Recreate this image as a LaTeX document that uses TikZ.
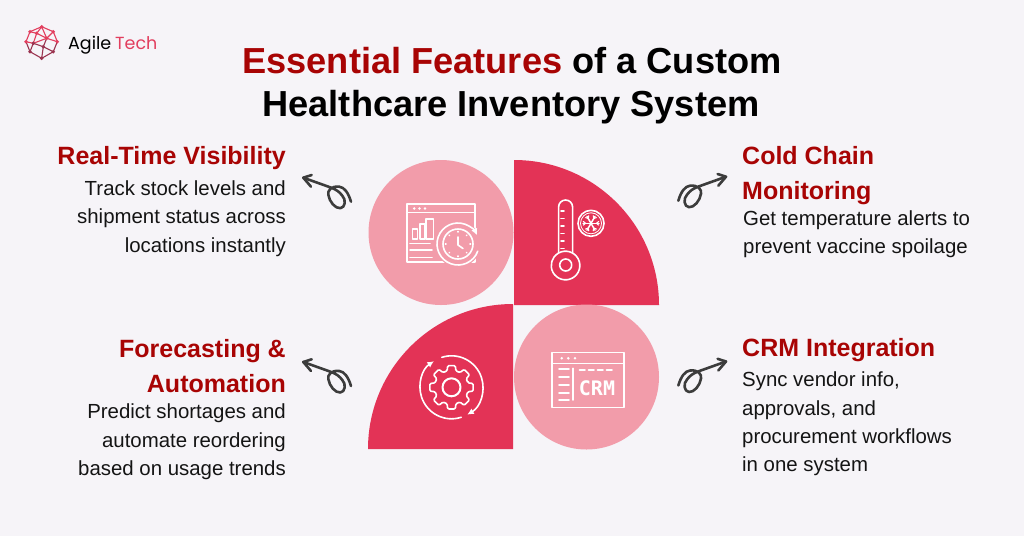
\documentclass[tikz,border=0pt]{standalone}
\usepackage{fontspec}
\setmainfont{Liberation Sans}
\newfontfamily\logofont{Poppins}
\newfontfamily\crmfont{DejaVu Sans Mono}
\usetikzlibrary{arrows.meta}
\definecolor{paper}{HTML}{F6F4F8}
\definecolor{softpink}{HTML}{F29CAA}
\definecolor{strongred}{HTML}{E33356}
\definecolor{headred}{HTML}{A80404}
\definecolor{inkgrey}{HTML}{3C3C3C}
\definecolor{logored}{HTML}{E23E5E}
\definecolor{logodark}{HTML}{9A3450}
\tikzset{titletext/.style = {font=\fontsize{36.2}{43}\bfseries\selectfont, text=black, inner sep=0pt, anchor=base}}
\tikzset{headleft/.style = {font=\fontsize{25}{35}\bfseries\selectfont, text=headred, inner sep=0pt, anchor=north east, align=right}}
\tikzset{headright/.style = {font=\fontsize{25}{35}\bfseries\selectfont, text=headred, inner sep=0pt, anchor=north west, align=left}}
\tikzset{bodyleft/.style = {font=\fontsize{20.4}{28.3}\selectfont, text=black!92, inner sep=0pt, anchor=north east, align=right}}
\tikzset{bodyright/.style = {font=\fontsize{20.4}{28.3}\selectfont, text=black!92, inner sep=0pt, anchor=north west, align=left}}
\tikzset{iconline/.style = {draw=white, line width=1.6pt, line cap=round, line join=round}}
\tikzset{curl/.pic = {
  \draw[inkgrey, line width=2.6pt, line cap=round, line join=round]
    (47.7,24) .. controls (45,15) and (41,9.5) .. (36,9)
    .. controls (28,8) and (24,13) .. (25,17)
    .. controls (26,24) and (32,31) .. (37,30.5)
    .. controls (42,30) and (43,22) .. (39,18)
    .. controls (36,14) and (33,12) .. (28,10) -- (0,0);
  \draw[inkgrey, line width=2.6pt, line cap=round, line join=round]
    (8.4,-2.7) -- (0,0) -- (7.7,9);
}}

\begin{document}
\begin{tikzpicture}[x=1pt, y=-1pt, >={Latex[length=6.5pt,width=6.5pt]}]
  \fill[paper] (0,0) rectangle (1024,536);

  % logo
  \foreach \name/\px/\py in {lt/41.7/26.7, lur/53.3/31.7, lr/57.3/41.7, llr/53.3/51.7, lb/41.7/58.3, lll/30/51.7, ll/26/41.7, lul/30/31.7, la/36.7/33.3, lc/46.7/38.3, ld/33.3/43.3, le/43.3/46.7}
    \coordinate (\name) at (\px,\py);
  \foreach \from/\to in {lt/lur, lur/lr, lul/lt, ll/lul, lt/la, lt/lc, la/lc, lc/lur, lc/lr, la/lul, la/ld, ld/lc, ld/ll}
    \draw[logored, line width=1.1pt] (\from) -- (\to);
  \foreach \from/\to in {lr/llr, llr/lb, lb/lll, lll/ll, ld/le, le/lc, le/llr, le/lb, ld/lll}
    \draw[logodark, line width=1.1pt] (\from) -- (\to);
  \foreach \name in {lt, lur, lr, lul, ll, la, lc}
    \fill[logored] (\name) circle (1.9);
  \foreach \name in {llr, lb, lll, ld, le}
    \fill[logodark] (\name) circle (1.9);
  \node[font=\logofont\fontsize{17.5}{20}\selectfont, inner sep=0pt, anchor=base west] (agile) at (68,49) {Agile};
  \node[font=\logofont\fontsize{17.5}{20}\selectfont, text=logored, inner sep=0pt, anchor=base west] (tech) at (115,49) {Tech};

  % title
  \node[titletext] (title1) at (512,73.3) {\textcolor{headred}{Essential Features} of a Custom};
  \node[titletext] (title2) at (511,116.7) {Healthcare Inventory System};

  % texts
  \node[headleft] (visibility) at (286,146) {Real-Time Visibility};
  \node[bodyleft] (visibilitytext) at (286,180.5) {Track stock levels and\\shipment status across\\locations instantly};
  \node[headright] (coldchain) at (742,146) {Cold Chain\\Monitoring};
  \node[bodyright] (coldchaintext) at (743,210.5) {Get temperature alerts to\\prevent vaccine spoilage};
  \node[headleft] (forecasting) at (286,339) {Forecasting \&\\Automation};
  \node[bodyleft] (forecastingtext) at (286,404) {Predict shortages and\\automate reordering\\based on usage trends};
  \node[headright] (crm) at (742,338) {CRM Integration};
  \node[bodyright] (crmtext) at (742,372) {Sync vendor info,\\approvals, and\\procurement workflows\\in one system};

  % four blocks
  \fill[softpink] (441,232.5) circle (72.5);
  \fill[strongred] (514,305) -- (514,160) arc[start angle=-90, end angle=0, radius=145] -- cycle;
  \fill[strongred] (513,449) -- (368,449) arc[start angle=180, end angle=270, radius=145] -- cycle;
  \fill[softpink] (586.5,377) circle (72.5);

  % window and clock
  \draw[iconline] (406.7,204) rectangle (475,262);
  \draw[iconline] (406.7,212.5) -- (475,212.5);
  \foreach \dotx in {414.3,419.5,425}
    \fill[white] (\dotx,208.5) circle (1.4);
  \draw[iconline] (412.3,239) -- (412.3,229) -- (417.3,229) -- (417.3,239) -- cycle;
  \draw[iconline] (420,239) -- (420,224) -- (425,224) -- (425,239) -- cycle;
  \draw[iconline] (426,239) -- (426,219) -- (433.3,219) -- (433.3,239) -- cycle;
  \foreach \liney/\linex in {243.3/430, 250/432, 257.3/432}
    \draw[iconline] (410,\liney) -- (\linex,\liney);
  \fill[softpink] (458,244) circle (23);
  \draw[iconline, ->] (458,244) ++(20:21) arc[start angle=20, end angle=335, radius=21];
  \draw[iconline] (458,244) circle (15);
  \foreach \t in {0,45,...,315}
    \draw[iconline] (458,244) ++(\t:12) -- ++(\t:0.6);
  \draw[iconline] (458,237) -- (458,245) -- (463,248.5);

  % thermometer and snowflake
  \draw[iconline] (558.6,253) -- (558.6,207) arc[start angle=180, end angle=360, radius=7] -- (572.6,253);
  \draw[iconline] (558.6,253) arc[start angle=-119, end angle=240, radius=14.3];
  \draw[iconline] (565.7,265) circle (6);
  \foreach \ticky in {211,218.3,225.7,233.3,241,248.3}
    \draw[iconline] (561,\ticky) -- (564,\ticky);
  \draw[iconline] (591,223.3) circle (13);
  \draw[white, line width=0.8pt] (591,223.3) circle (10.5);
  \foreach \t in {0,60,...,300} {
    \draw[iconline, line width=1.5pt] (591,223.3) -- ++(\t:8);
    \draw[iconline, line width=1.1pt] (591,223.3) ++(\t:5.5) -- ++(\t+40:2.8);
    \draw[iconline, line width=1.1pt] (591,223.3) ++(\t:5.5) -- ++(\t-40:2.8);
  }

  % gear
  \begin{scope}[shift={(451.5,387.3)}]
    \draw[iconline, rounded corners=1.2pt] (-15:17)
      \foreach \t in {0,45,...,315} { -- (\t-15:17) -- (\t-10:22) -- (\t+10:22) -- (\t+15:17) } -- cycle;
    \draw[iconline, line width=2pt] (0,0) circle (9);
    \draw[iconline, ->] (-108:31.5) arc[start angle=-108, end angle=60, radius=31.5];
    \draw[iconline, ->] (72:31.5) arc[start angle=72, end angle=236, radius=31.5];
  \end{scope}

  % crm window
  \draw[iconline] (551.7,352.3) rectangle (624,407.3);
  \draw[iconline] (551.7,363.3) -- (624,363.3);
  \foreach \dotx in {561.7,568.3,575}
    \fill[white] (\dotx,358.3) circle (1.4);
  \draw[iconline] (572.7,368.3) -- (572.7,400);
  \foreach \liney in {369,376.7,385,392.7,400}
    \draw[iconline] (559,\liney) -- (569,\liney);
  \foreach \dashx in {579.5,588.5,597.5,606.5}
    \draw[iconline] (\dashx,370) -- (\dashx+5.5,370);
  \node[font=\crmfont\bfseries\fontsize{20}{22}\selectfont, text=white, inner sep=0pt] (crmlabel) at (597,388.3) {CRM};

  % curls
  \pic at (303.3,177.7) {curl};
  \pic at (303.3,362) {curl};
  \pic[xscale=-1] at (726,176.7) {curl};
  \pic[xscale=-1] at (726,361.5) {curl};
\end{tikzpicture}
\end{document}
